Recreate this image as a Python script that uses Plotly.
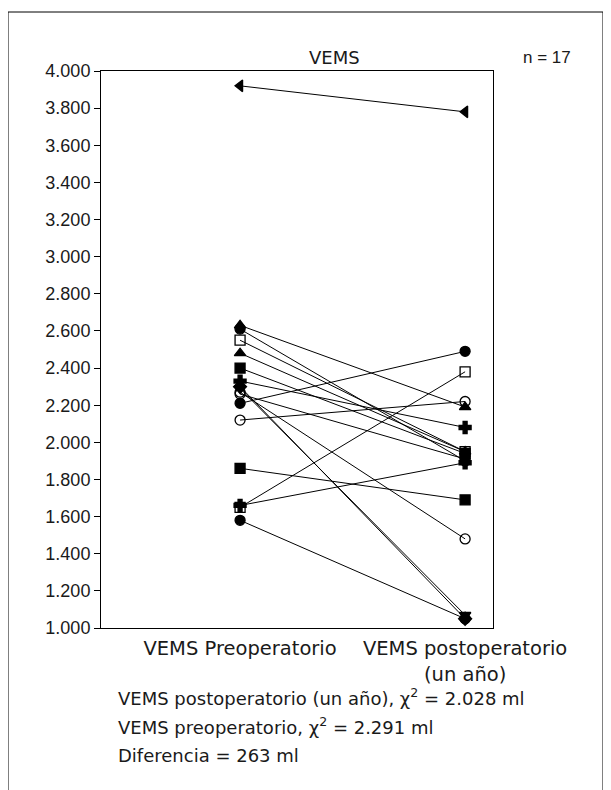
import plotly.graph_objects as go

categories = ["VEMS Preoperatorio", "VEMS postoperatorio<br>(un año)"]
pre_values = [3920, 2630, 2610, 2550, 2480, 2400, 2330, 2290, 2270, 2210, 2120, 1860, 1650, 1660, 1580, 2300, 2260]
post_values = [3780, 2190, 1900, 1950, 1950, 1940, 2080, 1070, 1480, 2490, 2220, 1690, 2380, 1890, 1050, 1050, 1910]
symbols = ["triangle-left", "triangle-up", "circle", "square-open", "triangle-up", "square", "cross",
           "triangle-down", "circle-open", "circle", "circle-open", "square", "square-open", "cross",
           "circle", "diamond", "circle-open"]
ytick_vals = [1000, 1200, 1400, 1600, 1800, 2000, 2200, 2400, 2600, 2800, 3000, 3200, 3400, 3600, 3800, 4000]
ytick_text = ["1.000", "1.200", "1.400", "1.600", "1.800", "2.000", "2.200", "2.400", "2.600", "2.800",
              "3.000", "3.200", "3.400", "3.600", "3.800", "4.000"]

OFF = 8  # page body margin
W, H = 611 - OFF, 790 - OFF
L, R, T, B = 101 - OFF, 493 - OFF, 71 - OFF, 628 - OFF

def px(x):
    return (x - OFF - L) / (R - L)

def py(y):
    return (B - (y - OFF)) / (B - T)

fig = go.Figure()
for a, b, s in zip(pre_values, post_values, symbols):
    fig.add_trace(go.Scatter(
        x=[0, 1], y=[a, b], mode="lines+markers",
        line=dict(color="black", width=1),
        marker=dict(symbol=s, size=10, color="black", line=dict(color="black", width=1.3)),
        showlegend=False, hoverinfo="skip"))

tick_font = dict(family="Liberation Sans, Arial, sans-serif", size=18, color="#1a1a1a")
cat_font = dict(family="DejaVu Sans, sans-serif", size=19.5, color="#1a1a1a")
wide_font = dict(family="DejaVu Sans, sans-serif", size=18, color="#1a1a1a")
small_font = dict(family="Liberation Sans, Arial, sans-serif", size=17, color="#1a1a1a")

fig.update_layout(
    width=W, height=H,
    margin=dict(l=L, r=W - R, t=T, b=H - B),
    paper_bgcolor="white", plot_bgcolor="white",
    font=tick_font,
    xaxis=dict(range=[-0.618, 1.124], tickvals=[0, 1], ticktext=categories,
               showgrid=False, zeroline=False, showline=True, linecolor="black",
               linewidth=1, mirror=True, ticks="", tickfont=cat_font, ticklabelstandoff=3),
    yaxis=dict(range=[1000, 4000], tickvals=ytick_vals, ticktext=ytick_text,
               showgrid=False, zeroline=False, showline=True, linecolor="black",
               linewidth=1, mirror=True, ticks="outside", ticklen=6, tickcolor="black",
               tickfont=tick_font),
)

# outer frame
fig.add_shape(type="path", xref="paper", yref="paper",
              path=f"M {px(8)} {py(790)} L {px(8)} {py(12)} L {px(603)} {py(12)} L {px(603)} {py(790)}",
              line=dict(color="black", width=1))

fig.add_annotation(text="VEMS", xref="paper", yref="paper", x=px(334), y=py(57),
                   showarrow=False, font=wide_font, xanchor="center", yanchor="middle")
fig.add_annotation(text="n = 17", xref="paper", yref="paper", x=px(573), y=py(57),
                   showarrow=False, font=small_font, xanchor="right", yanchor="middle")

lines = ["VEMS postoperatorio (un año), χ<sup>2</sup> = 2.028 ml",
         "VEMS preoperatorio, χ<sup>2</sup> = 2.291 ml",
         "Diferencia = 263 ml"]
for i, t in enumerate(lines):
    fig.add_annotation(text=t, xref="paper", yref="paper", x=px(116), y=py(697 + 29 * i),
                       showarrow=False, font=wide_font, xanchor="left", yanchor="middle")

fig.write_html("out.html")
